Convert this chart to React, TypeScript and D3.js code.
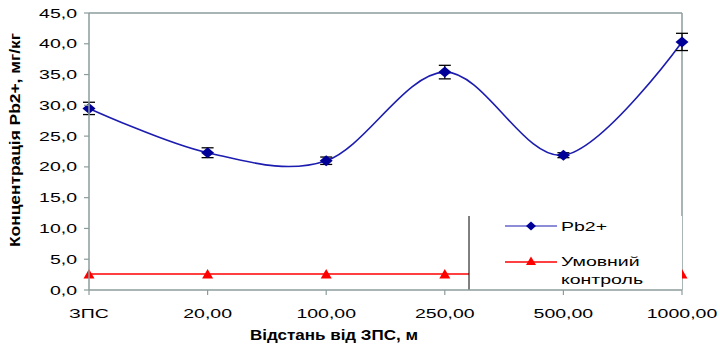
import React from "react";
import * as d3 from "d3";

const categories = ["ЗПС", "20,00", "100,00", "250,00", "500,00", "1000,00"];
const pbValues = [29.5, 22.3, 21.0, 35.4, 21.9, 40.3];
const pbErrors = [1.0, 0.8, 0.6, 1.1, 0.4, 1.4];
const controlValues = [2.6, 2.6, 2.6, 2.6, 2.6, 2.6];
const yTicks = [0, 5, 10, 15, 20, 25, 30, 35, 40, 45];

const W = 720;
const H = 345;
const left = 89;
const right = 682;
const top = 13;
const bottom = 290;
const SX = 1.5;
const font = "'Liberation Sans', Arial, sans-serif";

function SText({ x, y, anchor, children, size = 13, weight = "normal", fill = "#000" }: any) {
  return (
    <g transform={`translate(${x},${y}) scale(${SX},1)`}>
      <text x={0} y={0} textAnchor={anchor} fontSize={size} fontWeight={weight} fill={fill} fontFamily={font}>
        {children}
      </text>
    </g>
  );
}

export default function App() {
  const x = d3.scalePoint<string>().domain(categories).range([left, right]);
  const y = d3.scaleLinear().domain([0, 45]).range([bottom, top]);
  const fmt = (v: number) => d3.format(".1f")(v).replace(".", ",");

  const pbLine = d3
    .line<number>()
    .x((_, i) => x(categories[i]) as number)
    .y((d) => y(d))
    .curve(d3.curveCardinal.tension(0));
  const ctrlLine = d3
    .line<number>()
    .x((_, i) => x(categories[i]) as number)
    .y((d) => y(d));

  const diamond = (cx: number, cy: number, w = 6.5, h = 5.5) =>
    `M${cx - w},${cy} L${cx},${cy - h} L${cx + w},${cy} L${cx},${cy + h} Z`;
  const tri = (cx: number, cy: number, s = 5.5) =>
    `M${cx - s},${cy + s * 0.8} L${cx},${cy - s * 0.9} L${cx + s},${cy + s * 0.8} Z`;

  const axisColor = "#8c9c9c";
  const legX = 469;
  const legTop = 216;

  return (
    <svg width={W} height={H} style={{ position: "absolute", left: 0, top: 0, background: "#fff" }}>
      <rect x={0} y={0} width={W} height={H} fill="#fff" />
      {/* frame */}
      <line x1={left} y1={top} x2={right} y2={top} stroke={axisColor} strokeWidth={1.5} />
      <line x1={right} y1={top} x2={right} y2={bottom} stroke={axisColor} strokeWidth={1.5} />
      {/* control line */}
      <path d={ctrlLine(controlValues) || ""} fill="none" stroke="#ff0000" strokeWidth={1.5} />
      {controlValues.map((v, i) => (
        <path key={"t" + i} d={tri(x(categories[i]) as number, y(v))} fill="#ff0000" />
      ))}
      {/* Pb line */}
      <path d={pbLine(pbValues) || ""} fill="none" stroke="#1c1cb0" strokeWidth={1.6} />
      {pbValues.map((v, i) => {
        const cx = x(categories[i]) as number;
        const y1 = y(v + pbErrors[i]);
        const y2 = y(v - pbErrors[i]);
        return (
          <g key={"e" + i} stroke="#000" strokeWidth={1.3}>
            <line x1={cx} x2={cx} y1={y1} y2={y2} />
            <line x1={cx - 6} x2={cx + 6} y1={y1} y2={y1} />
            <line x1={cx - 6} x2={cx + 6} y1={y2} y2={y2} />
          </g>
        );
      })}
      {pbValues.map((v, i) => (
        <path key={"d" + i} d={diamond(x(categories[i]) as number, y(v))} fill="#000099" />
      ))}
      {/* legend */}
      <rect x={legX} y={legTop} width={right - legX} height={bottom - legTop} fill="#fff" />
      <line x1={legX} y1={legTop} x2={legX} y2={bottom} stroke="#000" strokeWidth={1} />
      <line x1={505} x2={557} y1={226} y2={226} stroke="#1c1cb0" strokeWidth={1.2} />
      <path d={diamond(531, 226, 5, 4.5)} fill="#000099" />
      <SText x={561} y={231} anchor="start">Pb2+</SText>
      <line x1={505} x2={557} y1={262} y2={262} stroke="#ff0000" strokeWidth={1.5} />
      <path d={tri(531, 261, 5)} fill="#ff0000" />
      <SText x={561} y={266} anchor="start">Умовний</SText>
      <SText x={561} y={284} anchor="start">контроль</SText>
      {/* axes */}
      <line x1={left} y1={top} x2={left} y2={bottom} stroke={axisColor} strokeWidth={1.5} />
      <line x1={left} y1={bottom} x2={right} y2={bottom} stroke={axisColor} strokeWidth={1.5} />
      {yTicks.map((t) => (
        <g key={"y" + t}>
          <line x1={left - 5} x2={left} y1={y(t)} y2={y(t)} stroke={axisColor} strokeWidth={1.2} />
          <SText x={77} y={y(t) + 4.5} anchor="end">{fmt(t)}</SText>
        </g>
      ))}
      {categories.map((c) => (
        <g key={"x" + c}>
          <line x1={x(c) as number} x2={x(c) as number} y1={bottom} y2={bottom + 5} stroke={axisColor} strokeWidth={1.2} />
          <SText x={x(c) as number} y={318} anchor="middle">{c}</SText>
        </g>
      ))}
      {/* titles */}
      <text x={334} y={340} textAnchor="middle" fontSize={14} fontWeight="bold" fontFamily={font}
        textLength={168} lengthAdjust="spacingAndGlyphs">Відстань від ЗПС, м</text>
      <text transform="translate(20,140) rotate(-90)" x={0} y={0} textAnchor="middle" fontSize={14}
        fontWeight="bold" fontFamily={font} textLength={214} lengthAdjust="spacingAndGlyphs">
        Концентрація Pb2+, мг/кг
      </text>
    </svg>
  );
}
